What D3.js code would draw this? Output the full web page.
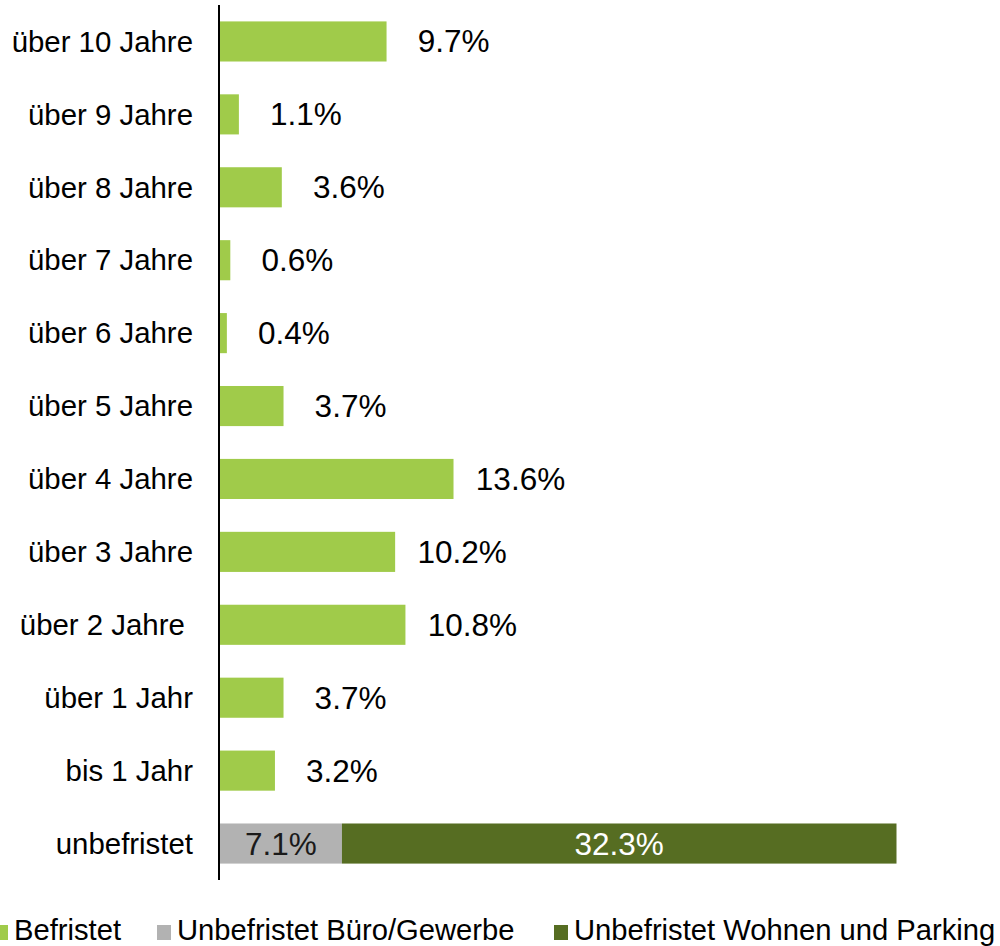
<!DOCTYPE html>
<html><head><meta charset="utf-8">
<script src="https://cdn.jsdelivr.net/npm/d3@7"></script>
<style>body{margin:0;background:#fff}svg{display:block}text{font-family:"Liberation Sans",Arial,sans-serif}</style>
</head><body>
<script>
const categories = ["über 10 Jahre","über 9 Jahre","über 8 Jahre","über 7 Jahre","über 6 Jahre","über 5 Jahre","über 4 Jahre","über 3 Jahre","über 2 Jahre ","über 1 Jahr","bis 1 Jahr","unbefristet"];
const befristet = [9.7,1.1,3.6,0.6,0.4,3.7,13.6,10.2,10.8,3.7,3.2,0];
const bueroGewerbe = [0,0,0,0,0,0,0,0,0,0,0,7.1];
const wohnenParking = [0,0,0,0,0,0,0,0,0,0,0,32.3];
const seriesNames = ["Befristet","Unbefristet Büro/Gewerbe","Unbefristet Wohnen und Parking"];
const colors = ["#A0CB4A","#B2B2B2","#566D22"];

const W=1000,H=946;
const svg=d3.select("body").append("svg").attr("width",W).attr("height",H);
const x=d3.scaleLinear().domain([0,40]).range([220,220+40*17.17]);
const y=d3.scaleBand().domain(categories).range([5,880]).paddingInner(0.45).paddingOuter(0.225);
const fsCat=29.4, fsVal=31.5, fsLeg=29.2;

// category labels
svg.append("g").selectAll("text").data(categories).join("text")
  .attr("x",193).attr("y",d=>y(d)+y.bandwidth()/2).attr("dy","0.35em")
  .attr("text-anchor","end").attr("font-size",fsCat).attr("fill","#000")
  .style("white-space","pre").text(d=>d);

const rows=categories.map((c,i)=>({c,b:befristet[i],g:bueroGewerbe[i],w:wohnenParking[i]}));
// befristet bars
const bRows=rows.filter(r=>r.b>0);
svg.append("g").selectAll("rect").data(bRows).join("rect")
  .attr("x",x(0)).attr("y",d=>y(d.c)).attr("width",d=>x(d.b)-x(0)).attr("height",y.bandwidth()).attr("fill",colors[0]);
svg.append("g").selectAll("text").data(bRows).join("text")
  .attr("x",d=>x(d.b)+67).attr("y",d=>y(d.c)+y.bandwidth()/2).attr("dy","0.35em")
  .attr("text-anchor","middle").attr("font-size",fsVal).attr("fill","#000").text(d=>d.b.toFixed(1)+"%");
// unbefristet stacked
const uRows=rows.filter(r=>r.g>0||r.w>0);
svg.append("g").selectAll("rect").data(uRows).join("rect")
  .attr("x",x(0)).attr("y",d=>y(d.c)).attr("width",d=>x(d.g)-x(0)).attr("height",y.bandwidth()).attr("fill",colors[1]);
svg.append("g").selectAll("rect").data(uRows).join("rect")
  .attr("x",d=>x(d.g)).attr("y",d=>y(d.c)).attr("width",d=>x(d.g+d.w)-x(d.g)).attr("height",y.bandwidth()).attr("fill",colors[2]);
svg.append("g").selectAll("text").data(uRows).join("text")
  .attr("x",d=>(x(0)+x(d.g))/2).attr("y",d=>y(d.c)+y.bandwidth()/2).attr("dy","0.35em")
  .attr("text-anchor","middle").attr("font-size",fsVal).attr("fill","#1a1a1a").text(d=>d.g.toFixed(1)+"%");
svg.append("g").selectAll("text").data(uRows).join("text")
  .attr("x",d=>(x(d.g)+x(d.g+d.w))/2).attr("y",d=>y(d.c)+y.bandwidth()/2).attr("dy","0.35em")
  .attr("text-anchor","middle").attr("font-size",fsVal).attr("fill","#fff").text(d=>d.w.toFixed(1)+"%");

// axis line
svg.append("line").attr("x1",219).attr("x2",219).attr("y1",5).attr("y2",880).attr("stroke","#000").attr("stroke-width",2);

// legend
const legX=[-6,157,554];
const lg=svg.append("g");
seriesNames.forEach((n,i)=>{
  lg.append("rect").attr("x",legX[i]).attr("y",925).attr("width",14).attr("height",15).attr("fill",colors[i]);
  lg.append("text").attr("x",legX[i]+20).attr("y",940).attr("font-size",fsLeg).attr("fill","#000").text(n);
});
</script>
</body></html>
